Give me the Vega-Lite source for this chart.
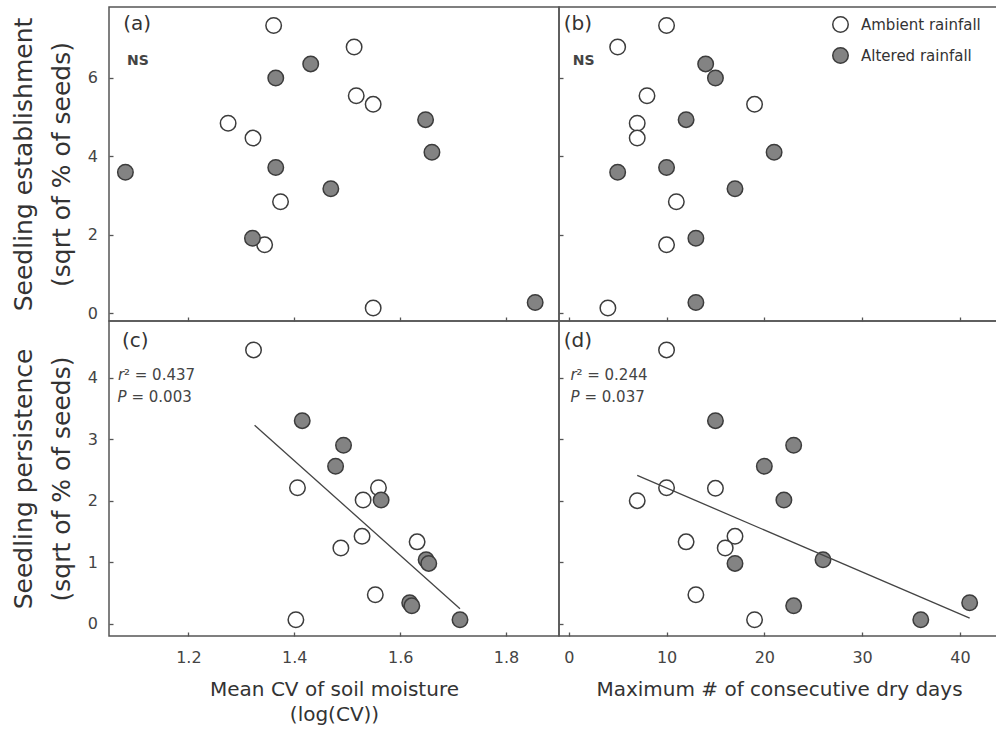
{
  "$schema": "https://vega.github.io/schema/vega-lite/v6.json",
  "background": "white",
  "padding": {"left": 10, "top": 6, "right": 0, "bottom": 0},
  "columns": 2,
  "spacing": 0,
  "bounds": "flush",
  "datasets": {
    "a": [
      {"t": "Ambient rainfall", "x": 1.361, "y": 7.33},
      {"t": "Ambient rainfall", "x": 1.513, "y": 6.78},
      {"t": "Ambient rainfall", "x": 1.275, "y": 4.84},
      {"t": "Ambient rainfall", "x": 1.322, "y": 4.46},
      {"t": "Ambient rainfall", "x": 1.517, "y": 5.54},
      {"t": "Ambient rainfall", "x": 1.549, "y": 5.32},
      {"t": "Ambient rainfall", "x": 1.374, "y": 2.84},
      {"t": "Ambient rainfall", "x": 1.344, "y": 1.74},
      {"t": "Ambient rainfall", "x": 1.549, "y": 0.13},
      {"t": "Altered rainfall", "x": 1.081, "y": 3.59},
      {"t": "Altered rainfall", "x": 1.365, "y": 5.99},
      {"t": "Altered rainfall", "x": 1.431, "y": 6.35},
      {"t": "Altered rainfall", "x": 1.365, "y": 3.71},
      {"t": "Altered rainfall", "x": 1.469, "y": 3.17},
      {"t": "Altered rainfall", "x": 1.321, "y": 1.91},
      {"t": "Altered rainfall", "x": 1.648, "y": 4.93},
      {"t": "Altered rainfall", "x": 1.66, "y": 4.1},
      {"t": "Altered rainfall", "x": 1.855, "y": 0.27}
    ],
    "b": [
      {"t": "Ambient rainfall", "x": 10, "y": 7.33},
      {"t": "Ambient rainfall", "x": 5, "y": 6.78},
      {"t": "Ambient rainfall", "x": 8, "y": 5.54},
      {"t": "Ambient rainfall", "x": 7, "y": 4.84},
      {"t": "Ambient rainfall", "x": 7, "y": 4.46},
      {"t": "Ambient rainfall", "x": 19, "y": 5.32},
      {"t": "Ambient rainfall", "x": 11, "y": 2.84},
      {"t": "Ambient rainfall", "x": 10, "y": 1.74},
      {"t": "Ambient rainfall", "x": 4, "y": 0.13},
      {"t": "Altered rainfall", "x": 14, "y": 6.35},
      {"t": "Altered rainfall", "x": 15, "y": 5.99},
      {"t": "Altered rainfall", "x": 12, "y": 4.93},
      {"t": "Altered rainfall", "x": 21, "y": 4.1},
      {"t": "Altered rainfall", "x": 5, "y": 3.59},
      {"t": "Altered rainfall", "x": 10, "y": 3.71},
      {"t": "Altered rainfall", "x": 17, "y": 3.17},
      {"t": "Altered rainfall", "x": 13, "y": 1.91},
      {"t": "Altered rainfall", "x": 13, "y": 0.27}
    ],
    "c": [
      {"t": "Ambient rainfall", "x": 1.323, "y": 4.45},
      {"t": "Ambient rainfall", "x": 1.406, "y": 2.21},
      {"t": "Ambient rainfall", "x": 1.559, "y": 2.21},
      {"t": "Ambient rainfall", "x": 1.53, "y": 2.01},
      {"t": "Ambient rainfall", "x": 1.528, "y": 1.42},
      {"t": "Ambient rainfall", "x": 1.488, "y": 1.23},
      {"t": "Ambient rainfall", "x": 1.632, "y": 1.33},
      {"t": "Ambient rainfall", "x": 1.553, "y": 0.47},
      {"t": "Ambient rainfall", "x": 1.403, "y": 0.065},
      {"t": "Altered rainfall", "x": 1.415, "y": 3.3},
      {"t": "Altered rainfall", "x": 1.493, "y": 2.9},
      {"t": "Altered rainfall", "x": 1.478, "y": 2.56},
      {"t": "Altered rainfall", "x": 1.564, "y": 2.01},
      {"t": "Altered rainfall", "x": 1.649, "y": 1.04},
      {"t": "Altered rainfall", "x": 1.654, "y": 0.98},
      {"t": "Altered rainfall", "x": 1.618, "y": 0.34},
      {"t": "Altered rainfall", "x": 1.622, "y": 0.29},
      {"t": "Altered rainfall", "x": 1.713, "y": 0.065}
    ],
    "d": [
      {"t": "Ambient rainfall", "x": 10, "y": 4.45},
      {"t": "Ambient rainfall", "x": 7, "y": 2.0},
      {"t": "Ambient rainfall", "x": 10, "y": 2.21},
      {"t": "Ambient rainfall", "x": 15, "y": 2.2},
      {"t": "Ambient rainfall", "x": 12, "y": 1.33},
      {"t": "Ambient rainfall", "x": 17, "y": 1.42},
      {"t": "Ambient rainfall", "x": 16, "y": 1.23},
      {"t": "Ambient rainfall", "x": 13, "y": 0.47},
      {"t": "Ambient rainfall", "x": 19, "y": 0.065},
      {"t": "Altered rainfall", "x": 15, "y": 3.3},
      {"t": "Altered rainfall", "x": 23, "y": 2.9},
      {"t": "Altered rainfall", "x": 20, "y": 2.56},
      {"t": "Altered rainfall", "x": 22, "y": 2.01},
      {"t": "Altered rainfall", "x": 26, "y": 1.04},
      {"t": "Altered rainfall", "x": 17, "y": 0.98},
      {"t": "Altered rainfall", "x": 23, "y": 0.29},
      {"t": "Altered rainfall", "x": 36, "y": 0.065},
      {"t": "Altered rainfall", "x": 41, "y": 0.34}
    ]
  },
  "concat": [
    {
      "width": 450,
      "height": 314,
      "layer": [
        {
          "data": {"name": "a"},
          "mark": {"type": "point", "shape": "circle", "filled": true, "size": 240, "stroke": "#3c3c3c", "strokeWidth": 1.5, "opacity": 1},
          "encoding": {
            "x": {"field": "x", "type": "quantitative", "scale": {"domain": [1.05, 1.9], "nice": false, "zero": false}, "axis": {"values": [1.2, 1.4, 1.6, 1.8], "labels": false, "title": null}},
            "y": {"field": "y", "type": "quantitative", "scale": {"domain": [-0.2, 7.8], "nice": false, "zero": false}, "axis": {"values": [0, 2, 4, 6], "format": "d", "title": ["Seedling establishment", "(sqrt of % of seeds)"]}},
            "fill": {"field": "t", "type": "nominal", "scale": {"domain": ["Ambient rainfall", "Altered rainfall"], "range": ["#ffffff", "#838383"]}, "legend": null}
          }
        },
        {
          "data": {"values": [{"x": 1.077, "y": 7.37, "s": "(a)"}]},
          "mark": {"type": "text", "align": "left", "baseline": "middle", "fontSize": 20, "color": "#333"},
          "encoding": {"x": {"field": "x", "type": "quantitative"}, "y": {"field": "y", "type": "quantitative"}, "text": {"field": "s"}}
        },
        {
          "data": {"values": [{"x": 1.084, "y": 6.43, "s": "NS"}]},
          "mark": {"type": "text", "align": "left", "baseline": "middle", "fontSize": 14, "fontWeight": "bold", "color": "#444"},
          "encoding": {"x": {"field": "x", "type": "quantitative"}, "y": {"field": "y", "type": "quantitative"}, "text": {"field": "s"}}
        }
      ]
    },
    {
      "width": 440,
      "height": 314,
      "layer": [
        {
          "data": {"name": "b"},
          "mark": {"type": "point", "shape": "circle", "filled": true, "size": 240, "stroke": "#3c3c3c", "strokeWidth": 1.5, "opacity": 1},
          "encoding": {
            "x": {"field": "x", "type": "quantitative", "scale": {"domain": [-1, 44], "nice": false, "zero": false}, "axis": {"values": [0, 10, 20, 30, 40], "labels": false, "title": null}},
            "y": {"field": "y", "type": "quantitative", "scale": {"domain": [-0.2, 7.8], "nice": false, "zero": false}, "axis": {"values": [0, 2, 4, 6], "labels": false, "title": null}},
            "fill": {"field": "t", "type": "nominal", "scale": {"domain": ["Ambient rainfall", "Altered rainfall"], "range": ["#ffffff", "#838383"]},
              "legend": {"orient": "none", "legendX": 273, "legendY": 9, "title": null, "symbolType": "circle", "symbolSize": 240, "symbolStrokeColor": "#3c3c3c", "symbolStrokeWidth": 1.5, "symbolOpacity": 1, "labelFontSize": 15, "labelColor": "#333", "labelOffset": 12, "rowPadding": 8, "padding": 0, "labelFont": "DejaVu Sans"}}
          }
        },
        {
          "data": {"values": [{"x": -0.51, "y": 7.37, "s": "(b)"}]},
          "mark": {"type": "text", "align": "left", "baseline": "middle", "fontSize": 20, "color": "#333"},
          "encoding": {"x": {"field": "x", "type": "quantitative"}, "y": {"field": "y", "type": "quantitative"}, "text": {"field": "s"}}
        },
        {
          "data": {"values": [{"x": 0.41, "y": 6.43, "s": "NS"}]},
          "mark": {"type": "text", "align": "left", "baseline": "middle", "fontSize": 14, "fontWeight": "bold", "color": "#444"},
          "encoding": {"x": {"field": "x", "type": "quantitative"}, "y": {"field": "y", "type": "quantitative"}, "text": {"field": "s"}}
        }
      ]
    },
    {
      "width": 450,
      "height": 315,
      "layer": [
        {
          "data": {"name": "c"},
          "mark": {"type": "point", "shape": "circle", "filled": true, "size": 240, "stroke": "#3c3c3c", "strokeWidth": 1.5, "opacity": 1},
          "encoding": {
            "x": {"field": "x", "type": "quantitative", "scale": {"domain": [1.05, 1.9], "nice": false, "zero": false}, "axis": {"values": [1.2, 1.4, 1.6, 1.8], "format": ".1f", "title": ["Mean CV of soil moisture", "(log(CV))"]}},
            "y": {"field": "y", "type": "quantitative", "scale": {"domain": [-0.2, 4.92], "nice": false, "zero": false}, "axis": {"values": [0, 1, 2, 3, 4], "format": "d", "title": ["Seedling persistence", "(sqrt of % of seeds)"]}},
            "fill": {"field": "t", "type": "nominal", "scale": {"domain": ["Ambient rainfall", "Altered rainfall"], "range": ["#ffffff", "#838383"]}, "legend": null}
          }
        },
        {
          "data": {"values": [{"x": 1.325, "y": 3.225}, {"x": 1.713, "y": 0.244}]},
          "mark": {"type": "line", "color": "#444", "strokeWidth": 1.3},
          "encoding": {"x": {"field": "x", "type": "quantitative"}, "y": {"field": "y", "type": "quantitative"}}
        },
        {
          "data": {"values": [{"x": 1.0745, "y": 4.595, "s": "(c)"}]},
          "mark": {"type": "text", "align": "left", "baseline": "middle", "fontSize": 20, "color": "#333"},
          "encoding": {"x": {"field": "x", "type": "quantitative"}, "y": {"field": "y", "type": "quantitative"}, "text": {"field": "s"}}
        },
        {
          "data": {"values": [{"x": 1.067, "y": 4.04, "s": "r"}, {"x": 1.066, "y": 3.685, "s": "P"}]},
          "mark": {"type": "text", "align": "left", "baseline": "middle", "fontSize": 15, "fontStyle": "italic", "color": "#444"},
          "encoding": {"x": {"field": "x", "type": "quantitative"}, "y": {"field": "y", "type": "quantitative"}, "text": {"field": "s"}}
        },
        {
          "data": {"values": [{"x": 1.067, "y": 4.04, "s": "² = 0.437"}]},
          "mark": {"type": "text", "align": "left", "baseline": "middle", "fontSize": 15, "dx": 6, "color": "#444"},
          "encoding": {"x": {"field": "x", "type": "quantitative"}, "y": {"field": "y", "type": "quantitative"}, "text": {"field": "s"}}
        },
        {
          "data": {"values": [{"x": 1.066, "y": 3.685, "s": "= 0.003"}]},
          "mark": {"type": "text", "align": "left", "baseline": "middle", "fontSize": 15, "dx": 14, "color": "#444"},
          "encoding": {"x": {"field": "x", "type": "quantitative"}, "y": {"field": "y", "type": "quantitative"}, "text": {"field": "s"}}
        }
      ]
    },
    {
      "width": 440,
      "height": 315,
      "layer": [
        {
          "data": {"name": "d"},
          "mark": {"type": "point", "shape": "circle", "filled": true, "size": 240, "stroke": "#3c3c3c", "strokeWidth": 1.5, "opacity": 1},
          "encoding": {
            "x": {"field": "x", "type": "quantitative", "scale": {"domain": [-1, 44], "nice": false, "zero": false}, "axis": {"values": [0, 10, 20, 30, 40], "title": "Maximum # of consecutive dry days"}},
            "y": {"field": "y", "type": "quantitative", "scale": {"domain": [-0.2, 4.92], "nice": false, "zero": false}, "axis": {"values": [0, 1, 2, 3, 4], "labels": false, "title": null}},
            "fill": {"field": "t", "type": "nominal", "scale": {"domain": ["Ambient rainfall", "Altered rainfall"], "range": ["#ffffff", "#838383"]}, "legend": null}
          }
        },
        {
          "data": {"values": [{"x": 7, "y": 2.41}, {"x": 41, "y": 0.09}]},
          "mark": {"type": "line", "color": "#444", "strokeWidth": 1.3},
          "encoding": {"x": {"field": "x", "type": "quantitative"}, "y": {"field": "y", "type": "quantitative"}}
        },
        {
          "data": {"values": [{"x": -0.51, "y": 4.595, "s": "(d)"}]},
          "mark": {"type": "text", "align": "left", "baseline": "middle", "fontSize": 20, "color": "#333"},
          "encoding": {"x": {"field": "x", "type": "quantitative"}, "y": {"field": "y", "type": "quantitative"}, "text": {"field": "s"}}
        },
        {
          "data": {"values": [{"x": 0.17, "y": 4.04, "s": "r"}, {"x": 0.17, "y": 3.685, "s": "P"}]},
          "mark": {"type": "text", "align": "left", "baseline": "middle", "fontSize": 15, "fontStyle": "italic", "color": "#444"},
          "encoding": {"x": {"field": "x", "type": "quantitative"}, "y": {"field": "y", "type": "quantitative"}, "text": {"field": "s"}}
        },
        {
          "data": {"values": [{"x": 0.17, "y": 4.04, "s": "² = 0.244"}]},
          "mark": {"type": "text", "align": "left", "baseline": "middle", "fontSize": 15, "dx": 6, "color": "#444"},
          "encoding": {"x": {"field": "x", "type": "quantitative"}, "y": {"field": "y", "type": "quantitative"}, "text": {"field": "s"}}
        },
        {
          "data": {"values": [{"x": 0.17, "y": 3.685, "s": "= 0.037"}]},
          "mark": {"type": "text", "align": "left", "baseline": "middle", "fontSize": 15, "dx": 14, "color": "#444"},
          "encoding": {"x": {"field": "x", "type": "quantitative"}, "y": {"field": "y", "type": "quantitative"}, "text": {"field": "s"}}
        }
      ]
    }
  ],
  "resolve": {"scale": {"fill": "independent"}, "legend": {"fill": "independent"}},
  "config": {
    "font": "DejaVu Sans",
    "view": {"stroke": "#555", "strokeWidth": 1.5},
    "axis": {
      "domain": false,
      "grid": false,
      "ticks": true,
      "tickSize": -4,
      "tickColor": "#555",
      "tickWidth": 1.3,
      "labelFont": "DejaVu Sans",
      "labelFontSize": 16,
      "labelColor": "#444",
      "titleFont": "DejaVu Sans",
      "titleFontWeight": "normal",
      "titleColor": "#333"
    },
    "axisLeft": {"labelPadding": 15.5, "titleFontSize": 25, "titleLineHeight": 38, "titlePadding": 13},
    "axisBottom": {"labelPadding": 17, "titleFontSize": 20, "titleLineHeight": 25, "titlePadding": 14}
  }
}
